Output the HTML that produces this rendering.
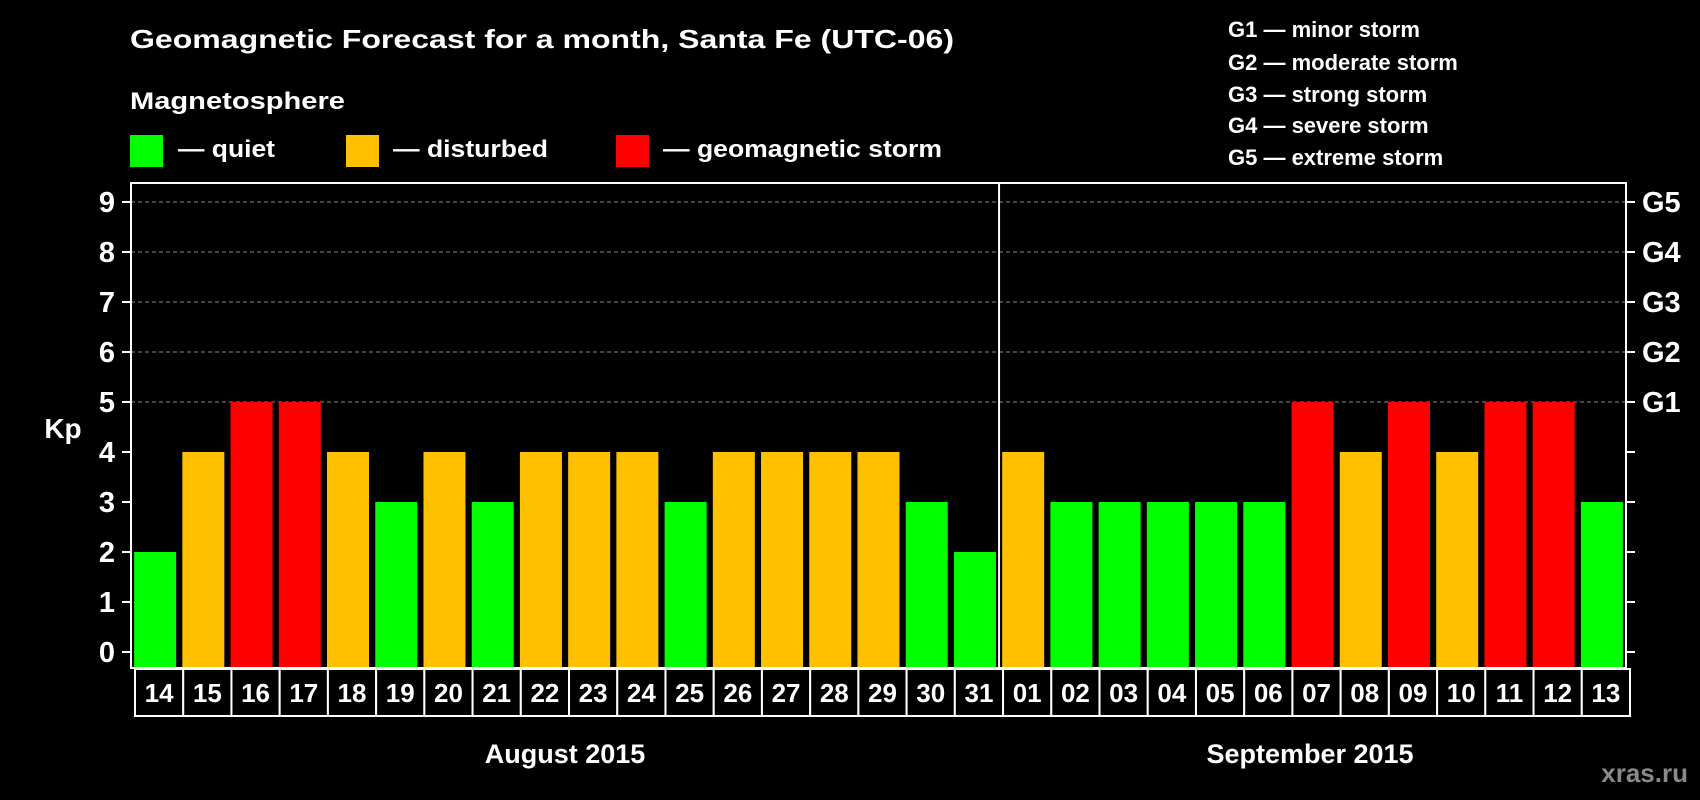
<!DOCTYPE html>
<html><head><meta charset="utf-8"><style>
html,body{margin:0;padding:0;background:#000;}
svg{display:block;font-family:"Liberation Sans",Arial,sans-serif;font-weight:bold;}
</style></head><body>
<svg id="chart" width="1700" height="800" viewBox="0 0 1700 800" xmlns="http://www.w3.org/2000/svg">
<rect width="1700" height="800" fill="#000"/>
<text x="130" y="48" fill="#fff" font-size="26" textLength="824" lengthAdjust="spacingAndGlyphs">Geomagnetic Forecast for a month, Santa Fe (UTC-06)</text>
<text x="130" y="109" fill="#fff" font-size="24" textLength="215" lengthAdjust="spacingAndGlyphs">Magnetosphere</text>
<g>
<rect x="130" y="135" width="33" height="32" fill="#00ff00"/>
<text x="178" y="157" fill="#fff" font-size="24" textLength="97" lengthAdjust="spacingAndGlyphs">— quiet</text></g>
<g>
<rect x="346" y="135" width="33" height="32" fill="#ffc000"/>
<text x="393" y="157" fill="#fff" font-size="24" textLength="155" lengthAdjust="spacingAndGlyphs">— disturbed</text></g>
<g>
<rect x="616" y="135" width="33" height="32" fill="#ff0000"/>
<text x="663" y="157" fill="#fff" font-size="24" textLength="279" lengthAdjust="spacingAndGlyphs">— geomagnetic storm</text></g>
<g fill="#fff" font-size="22">
<text x="1228" y="37">G1 — minor storm</text>
<text x="1228" y="70">G2 — moderate storm</text>
<text x="1228" y="102">G3 — strong storm</text>
<text x="1228" y="133">G4 — severe storm</text>
<text x="1228" y="165">G5 — extreme storm</text>
</g>
<g id="plot"></g>
<text x="63" y="438" fill="#fff" font-size="28" text-anchor="middle">Kp</text>
<text x="565" y="763" fill="#fff" font-size="27" text-anchor="middle">August 2015</text>
<text x="1310" y="763" fill="#fff" font-size="27" text-anchor="middle">September 2015</text>
<text x="1688" y="782" fill="#8a8a8a" font-size="26" text-anchor="end">xras.ru</text>
</svg>
<script>
const days = ["14","15","16","17","18","19","20","21","22","23","24","25","26","27","28","29","30","31","01","02","03","04","05","06","07","08","09","10","11","12","13"];
const kpValues = [2,4,5,5,4,3,4,3,4,4,4,3,4,4,4,4,3,2,4,3,3,3,3,3,5,4,5,4,5,5,3];
const yTicks = [0,1,2,3,4,5,6,7,8,9];
const gLabels = ["G1","G2","G3","G4","G5"];
const monthBreakIndex = 18;

const NS = "http://www.w3.org/2000/svg";
const plot = document.getElementById("plot");
const L = 131, R = 1626, T = 183, B = 668;
const slot = (R - L) / days.length;
const barW = 42;
const yScale = v => 652 - v * 50;
const xScale = i => L + i * slot;
function mk(tag, attrs, parent) {
  const e = document.createElementNS(NS, tag);
  for (const k in attrs) e.setAttribute(k, attrs[k]);
  (parent || plot).appendChild(e);
  return e;
}
// grid lines for 5..9
yTicks.filter(t => t >= 5).forEach(t => {
  const g = mk("line", {x1: L, x2: R, y1: yScale(t), y2: yScale(t), stroke: "#888", "stroke-width": 1, "stroke-dasharray": "4,3"});
  
  
});
// bars
kpValues.forEach((v, i) => {
  const color = v >= 5 ? "#ff0000" : (v >= 4 ? "#ffc000" : "#00ff00");
  const r = mk("rect", {x: xScale(i) + (slot - barW) / 2, y: yScale(v), width: barW, height: yScale(0) - yScale(v) + 16, fill: color});
  
  
});
// frame
const fr = mk("rect", {x: L, y: T, width: R - L, height: B - T, fill: "none", stroke: "#fff", "stroke-width": 2});


const dv = mk("line", {x1: xScale(monthBreakIndex), x2: xScale(monthBreakIndex), y1: T, y2: B, stroke: "#fff", "stroke-width": 2});


// y ticks
yTicks.forEach(t => {
  mk("line", {x1: L - 9, x2: L, y1: yScale(t), y2: yScale(t), stroke: "#fff", "stroke-width": 2});
  mk("line", {x1: R, x2: R + 9, y1: yScale(t), y2: yScale(t), stroke: "#fff", "stroke-width": 2});
  const tx = mk("text", {x: 115, y: yScale(t) + 10, fill: "#fff", "font-size": 29, "text-anchor": "end"});
  tx.textContent = t;
  
  
});
gLabels.forEach((g, i) => {
  const tx = mk("text", {x: 1642, y: yScale(5 + i) + 10, fill: "#fff", "font-size": 29});
  tx.textContent = g;
  
  
});
// day label boxes
days.forEach((d, i) => {
  const bx = mk("rect", {x: xScale(i) + 4, y: 669, width: slot, height: 47, fill: "#000", stroke: "#fff", "stroke-width": 2});
  
  
  const tx = mk("text", {x: xScale(i) + 4 + slot / 2, y: 702, fill: "#fff", "font-size": 26, "text-anchor": "middle"});
  tx.textContent = d;
  
  
});
</script>
</body></html>
